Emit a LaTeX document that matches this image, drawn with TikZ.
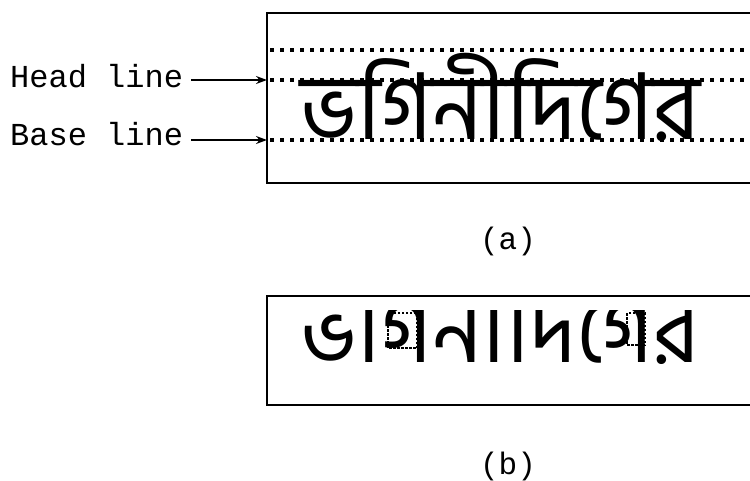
\documentclass[tikz,border=0pt]{standalone}
\usepackage{fontspec}
\usetikzlibrary{arrows.meta}
\newfontfamily\lblfont{Liberation Mono}
\newfontfamily\bnfont[Script=Bengali]{Hind Siliguri}
\newcommand{\bnword}{\resizebox{400pt}{\height}{ভগিনীদিগের}}
\tikzset{
  frame/.style={line width=1.4pt, draw=black},
  guide/.style={line width=3.6pt, dash pattern=on 3.6pt off 6.4pt},
  lbl/.style={font=\lblfont\fontsize{32}{36}\selectfont, inner sep=0pt},
  panelcap/.style={font=\lblfont\fontsize{31}{36}\selectfont, inner sep=0pt},
  word/.style={font=\bnfont\fontsize{92}{100}\selectfont, inner sep=0pt},
  pointer/.style={line width=1.3pt, -{Stealth[length=11pt,width=8pt]}},
  segbox/.style={line width=1.1pt, dash pattern=on 2.5pt off 1.5pt},
}
\begin{document}
\begin{tikzpicture}[x=1pt, y=-1pt]
  \useasboundingbox (0,0) rectangle (750,481);
  \fill[white] (0,0) rectangle (750,481);

  % panel (a): word between guide lines
  \draw[frame] (750,13) -- (267,13) -- (267,183) -- (750,183);
  \draw[guide] (270,50) -- (750,50);
  \coordinate (headT) at (267,80);
  \coordinate (baseT) at (267,140);
  \draw[guide] (270,80) -- (750,80);
  \draw[guide] (270,140) -- (750,140);
  \node[word, anchor=base west] (wa) at (300,140) {\bnword};

  \node[lbl, anchor=base west] (hl) at (10,88) {Head line};
  \node[lbl, anchor=base west] (bl) at (10,146) {Base line};
  \draw[pointer] (hl.east |- headT) ++(8,0) -- (headT);
  \draw[pointer] (bl.east |- baseT) ++(8,0) -- (baseT);

  \node[panelcap] (ca) at (508,241) {(a)};

  % panel (b): word with its head line removed
  \draw[frame] (750,296) -- (267,296) -- (267,405) -- (750,405);
  \begin{scope}
    \clip (268,310) rectangle (750,404);
    \node[word, anchor=base west] (wb) at (300,362) {\bnword};
  \end{scope}
  \draw[segbox] (388,313) rectangle (417,348);
  \draw[segbox] (627,313) rectangle (645,345);

  \node[panelcap] (cb) at (508,466) {(b)};
\end{tikzpicture}
\end{document}
